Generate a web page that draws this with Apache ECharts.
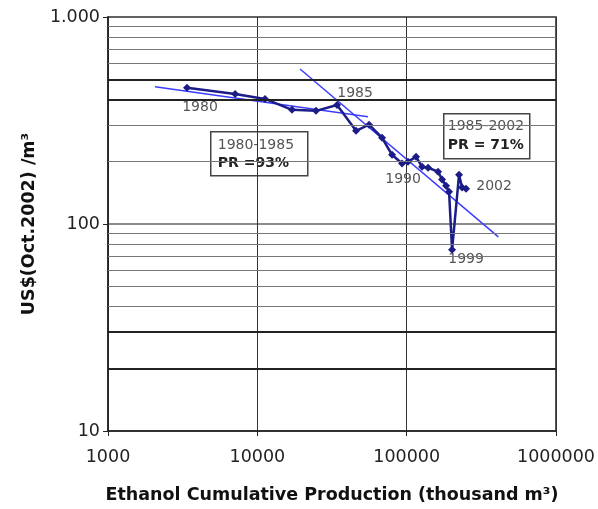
<!DOCTYPE html>
<html>
<head>
<meta charset="utf-8">
<script src="https://cdn.jsdelivr.net/npm/echarts@6/dist/echarts.min.js"></script>
<style>
html,body{margin:0;padding:0;background:#fff;}
#chart{width:598px;height:509px;}
</style>
</head>
<body>
<div id="chart"></div>
<script>
// ---- data ----
const years = [1980,1981,1982,1983,1984,1985,1986,1987,1988,1989,1990,1991,1992,1993,1994,1995,1996,1997,1998,1999,2000,2001,2002];
const cumProduction = [3380,7100,11260,17070,24720,34180,45820,55980,68430,79800,93130,102100,115600,126800,139100,162300,172600,183600,192300,201400,224300,235000,249900];
const costUSD = [455,425,402,356,352,376,282,302,261,216,196,200,211,189,187,179,164,153,143,75,173,150,148];

// fitted learning-curve lines (end points)
const trend1980X = [2065, 55080];
const trend1980Y = [460, 330];
const trend1985X = [19320, 411000];
const trend1985Y = [561, 86.7];

const labelledYears = [1980, 1985, 1990, 1999, 2002];
const xTickValues = [1000, 10000, 100000, 1000000];
const yTickValues = [10, 100, 1000];
const minorGridValues = [40, 50, 60, 70, 80, 90, 200, 300, 600, 700, 800, 900];
const strongGridValues = [20, 30, 400, 500];

const box1Lines = ['1980-1985', 'PR =93%'];
const box2Lines = ['1985-2002', 'PR = 71%'];

// ---- styling / layout ----
const FONT = 'DejaVu Sans';
const labelOffsets = {1980:[13,20], 1985:[18,-12], 1990:[1,16], 1999:[14,9], 2002:[28,-2]};

const mainData = years.map((yr, i) => {
  const item = { value: [cumProduction[i], costUSD[i]] };
  if (labelledYears.includes(yr)) {
    item.label = {
      show: true, formatter: String(yr), position: 'inside',
      offset: labelOffsets[yr], color: '#555', fontSize: 14, fontFamily: FONT
    };
  }
  return item;
});

const fmtThousands = v => String(Math.round(v)).replace(/\B(?=(\d{3})+(?!\d))/g, '.');

const chart = echarts.init(document.getElementById('chart'), null, {renderer: 'canvas'});
chart.setOption({
  animation: false,
  backgroundColor: '#fff',
  grid: { left: 108, right: 42, top: 17, bottom: 77, show: true, borderColor: '#222', borderWidth: 1.5, backgroundColor: 'transparent' },
  xAxis: {
    type: 'log', logBase: 10, min: xTickValues[0], max: xTickValues[xTickValues.length - 1], interval: 1,
    name: 'Ethanol Cumulative Production (thousand m³)', nameLocation: 'middle', nameGap: 55,
    nameTextStyle: { fontFamily: FONT, fontWeight: 'bold', fontSize: 17.5, color: '#111' },
    axisLine: { show: true, lineStyle: { color: '#222', width: 1.5 } },
    axisTick: { show: true, length: 5, lineStyle: { color: '#222' } },
    axisLabel: { margin: 17, fontFamily: FONT, fontSize: 17.5, color: '#222', formatter: v => String(Math.round(v)) },
    splitLine: { show: true, lineStyle: { color: '#333', width: 1 } },
    minorSplitLine: { show: false }
  },
  yAxis: {
    type: 'log', logBase: 10, min: yTickValues[0], max: yTickValues[yTickValues.length - 1], interval: 1,
    name: 'US$(Oct.2002) /m³', nameLocation: 'middle', nameGap: 70,
    nameTextStyle: { fontFamily: FONT, fontWeight: 'bold', fontSize: 17.5, color: '#111' },
    axisLine: { show: true, lineStyle: { color: '#222', width: 1.5 } },
    axisTick: { show: true, length: 5, lineStyle: { color: '#222' } },
    axisLabel: { margin: 8, fontFamily: FONT, fontSize: 17.5, color: '#222', formatter: fmtThousands },
    splitLine: { show: true, lineStyle: { color: '#666', width: 1.5 } }
  },
  series: [
    {
      type: 'line', name: 'grid', data: [], silent: true,
      markLine: {
        silent: true, symbol: 'none', label: { show: false },
        lineStyle: { color: '#777', width: 1, type: 'solid' },
        data: minorGridValues.map(v => ({ yAxis: v }))
      }
    },
    {
      type: 'line', name: 'grid2', data: [], silent: true,
      markLine: {
        silent: true, symbol: 'none', label: { show: false },
        lineStyle: { color: '#222', width: 1.8, type: 'solid' },
        data: strongGridValues.map(v => ({ yAxis: v }))
      }
    },
    {
      type: 'line', name: '1980-1985 fit', showSymbol: false, symbol: 'none',
      data: trend1980X.map((x, i) => [x, trend1980Y[i]]),
      lineStyle: { color: '#3c3cff', width: 1.5 }, z: 3
    },
    {
      type: 'line', name: '1985-2002 fit', showSymbol: false, symbol: 'none',
      data: trend1985X.map((x, i) => [x, trend1985Y[i]]),
      lineStyle: { color: '#3c3cff', width: 1.5 }, z: 3
    },
    {
      type: 'line', name: 'Ethanol price', data: mainData,
      symbol: 'diamond', symbolSize: 8, showAllSymbol: true,
      itemStyle: { color: '#1c1c88' },
      lineStyle: { color: '#1c1c88', width: 2.5 }, z: 4
    }
  ],
  graphic: [
    {
      type: 'group', left: 210, top: 131,
      children: [
        { type: 'rect', shape: { x: 0, y: 0, width: 97, height: 44 }, style: { fill: '#fff', stroke: '#444', lineWidth: 1.5 } },
        { type: 'text', x: 7, y: 14, style: { text: box1Lines[0], fontFamily: FONT, fontSize: 14, fill: '#555', verticalAlign: 'middle' } },
        { type: 'text', x: 7, y: 32, style: { text: box1Lines[1], fontFamily: FONT, fontSize: 14, fontWeight: 'bold', fill: '#222', verticalAlign: 'middle' } }
      ]
    },
    {
      type: 'group', left: 443, top: 113,
      children: [
        { type: 'rect', shape: { x: 0, y: 0, width: 86, height: 45 }, style: { fill: '#fff', stroke: '#444', lineWidth: 1.5 } },
        { type: 'text', x: 4, y: 13, style: { text: box2Lines[0], fontFamily: FONT, fontSize: 14, fill: '#555', verticalAlign: 'middle' } },
        { type: 'text', x: 4, y: 31.5, style: { text: box2Lines[1], fontFamily: FONT, fontSize: 14, fontWeight: 'bold', fill: '#222', verticalAlign: 'middle' } }
      ]
    }
  ]
});
</script>
</body>
</html>
